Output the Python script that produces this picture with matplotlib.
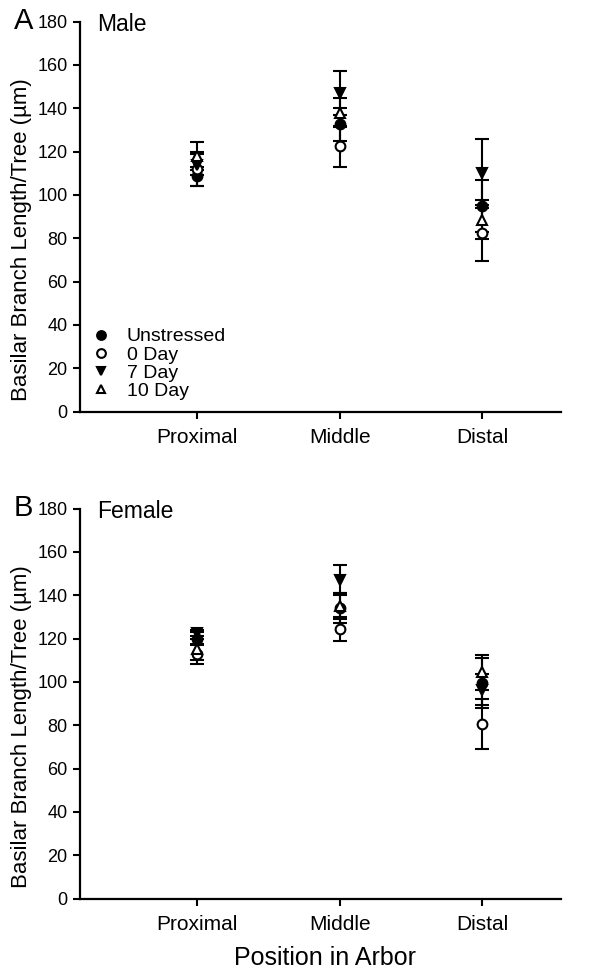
import numpy as np
import matplotlib
matplotlib.use('Agg')
import matplotlib.pyplot as plt
from matplotlib import rcParams

rcParams['font.family'] = ['Liberation Sans', 'DejaVu Sans']

# Data (group means and error bars)
positions = ['Proximal', 'Middle', 'Distal']
groups = ['Unstressed', '0 Day', '7 Day', '10 Day']

male_unstressed = [108.5, 132.5, 95.0]
male_unstressed_err = [4.5, 7.5, 12.0]
male_day0 = [112.0, 122.5, 82.5]
male_day0_err = [8.0, 9.5, 13.0]
male_day7 = [114.0, 147.0, 110.0]
male_day7_err = [5.0, 10.0, 16.0]
male_day10 = [118.0, 138.0, 88.5]
male_day10_err = [6.5, 6.5, 9.0]

female_unstressed = [120.0, 134.0, 99.5]
female_unstressed_err = [3.0, 7.0, 11.5]
female_day0 = [113.0, 124.5, 80.5]
female_day0_err = [4.5, 5.5, 11.5]
female_day7 = [122.5, 147.0, 96.5]
female_day7_err = [1.5, 7.0, 7.0]
female_day10 = [115.0, 135.0, 104.5]
female_day10_err = [5.0, 6.0, 8.0]

y_ticks = [0, 20, 40, 60, 80, 100, 120, 140, 160, 180]

# marker styles per group: (marker, facecolor)
styles = [('o', 'black'), ('o', 'white'), ('v', 'black'), ('^', 'white')]


def draw_panel(ax, means, errs, letter, title, legend=False):
    x = np.arange(1, len(positions) + 1)
    for (mk, fc), m, e, name in zip(styles, means, errs, groups):
        ax.errorbar(x, m, yerr=e, fmt='none', ecolor='black',
                    elinewidth=1.5, capsize=5, capthick=1.5, zorder=2)
        ax.plot(x, m, linestyle='none', marker=mk, markersize=7,
                markerfacecolor=fc, markeredgecolor='black',
                markeredgewidth=1.5, label=name, zorder=3)

    ax.set_xlim(0.18, 3.55)
    ax.set_ylim(0, 180)
    ax.set_xticks(x)
    ax.set_xticklabels(positions, fontsize=15)
    ax.set_yticks(y_ticks)
    ax.tick_params(axis='y', labelsize=13, width=1.5, length=5, direction='out', pad=4)
    ax.tick_params(axis='x', width=1.5, length=5, direction='out', pad=7)
    for side in ['top', 'right']:
        ax.spines[side].set_visible(False)
    for side in ['left', 'bottom']:
        ax.spines[side].set_linewidth(1.6)
    ax.set_ylabel('Basilar Branch Length/Tree (\u00b5m)', fontsize=16)
    ax.yaxis.set_label_coords(-0.10, 0.44)
    ax.text(0.035, 1.022, title, transform=ax.transAxes, fontsize=16.5,
            ha='left', va='top')
    ax.text(-0.098, 1.038, letter, transform=ax.transAxes, fontsize=21,
            ha='right', va='top')
    if legend:
        ax.legend(loc='lower left', bbox_to_anchor=(0.0, 0.0), frameon=False,
                  fontsize=14, handlelength=1.0, handletextpad=0.8,
                  labelspacing=0.03, borderaxespad=0.2, markerscale=0.9)


fig = plt.figure(figsize=(6.01, 9.8), dpi=100)
ax1 = fig.add_axes([0.133, 0.580, 0.80, 0.398])
ax2 = fig.add_axes([0.133, 0.083, 0.80, 0.398])

draw_panel(ax1,
           [male_unstressed, male_day0, male_day7, male_day10],
           [male_unstressed_err, male_day0_err, male_day7_err, male_day10_err],
           'A', 'Male', legend=True)
draw_panel(ax2,
           [female_unstressed, female_day0, female_day7, female_day10],
           [female_unstressed_err, female_day0_err, female_day7_err, female_day10_err],
           'B', 'Female')

fig.text(0.54, 0.022, 'Position in Arbor', ha='center', va='center',
         fontsize=18)

fig.savefig('out.png', dpi=100)
